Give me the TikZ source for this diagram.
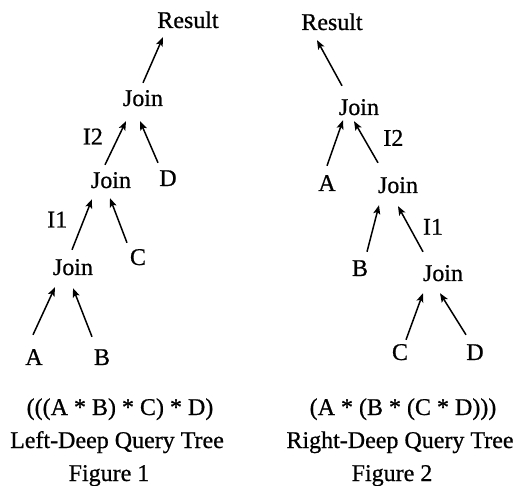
\documentclass[tikz,border=0pt]{standalone}
\usepackage{fontspec}
\setmainfont{Liberation Serif}
\newfontfamily\treefont[FakeBold=0.7]{Liberation Serif}
\usetikzlibrary{arrows.meta,positioning}

\tikzset{
  lbl/.style={inner sep=0pt, text height=16pt, text depth=0pt, font=\treefont\fontsize{24}{28}\selectfont},
  feed/.style={-{Stealth[length=9pt,width=7pt,inset=2pt]}, line width=1.5pt},
}

\begin{document}
\begin{tikzpicture}[x=1pt, y=1pt, node distance=33pt]
        \useasboundingbox (0,0) rectangle (517,485);

        % Left-deep tree
        \node[lbl] (res1) at (188,465) {Result};
        \node[lbl] (jt1) at (143,387) {Join};
        \node[lbl] (jm1) at (111,305) {Join};
        \node[lbl] (d1) at (168,307) {D};
        \node[lbl] (jb1) at (73,218) {Join};
        \node[lbl] (c1) at (138,228) {C};
        \node[lbl] (a1) at (34,128) {A};
        \node[lbl] (b1) at (102,128) {B};

        \node[lbl] (f1) at (120,78) {(((A * B) * C) * D)};
        \node[lbl, below of=f1, xshift=-3pt] (t1) {Left-Deep Query Tree};
        \node[lbl, below of=t1, xshift=-8pt] (g1) {Figure 1};

        \draw[feed] ([yshift=7pt]jt1.north) -- ([xshift=-25pt,yshift=-9pt]res1.south);
        \draw[feed] ([xshift=-6pt,yshift=7pt]jm1.north) -- node[lbl, pos=.65, left=15pt] (i2a) {I2} ([xshift=-17pt,yshift=-15pt]jt1.south);
        \draw[feed] ([xshift=-10pt,yshift=7pt]d1.north) -- ([xshift=-3pt,yshift=-15pt]jt1.south);
        \draw[feed] ([xshift=-1pt,yshift=9pt]jb1.north) -- node[lbl, pos=.6, left=16pt] (i1a) {I1} ([xshift=-19pt,yshift=-11pt]jm1.south);
        \draw[feed] ([xshift=-11pt,yshift=6pt]c1.north) -- ([xshift=-1pt,yshift=-10pt]jm1.south);
        \draw[feed] ([xshift=-1pt,yshift=14pt]a1.north) -- ([xshift=-18pt,yshift=-12pt]jb1.south);
        \draw[feed] ([xshift=-10pt,yshift=12pt]b1.north) -- ([yshift=-13pt]jb1.south);

        % Right-deep tree
        \node[lbl] (res2) at (332,463) {Result};
        \node[lbl] (jt2) at (359,378) {Join};
        \node[lbl] (a2) at (327,302) {A};
        \node[lbl] (jm2) at (398,300) {Join};
        \node[lbl] (b2) at (360,217) {B};
        \node[lbl] (jb2) at (443,212) {Join};
        \node[lbl] (c2) at (400,133) {C};
        \node[lbl] (d2) at (475,133) {D};

        \node[lbl] (f2) at (403,78) {(A * (B * (C * D)))};
        \node[lbl, below of=f2, xshift=-3pt] (t2) {Right-Deep Query Tree};
        \node[lbl, below of=t2, xshift=-8pt] (g2) {Figure 2};

        \draw[feed] ([xshift=-17pt,yshift=13pt]jt2.north) -- ([xshift=-15pt,yshift=-10pt]res2.south);
        \draw[feed] ([yshift=9pt]a2.north) -- ([xshift=-16pt,yshift=-5pt]jt2.south);
        \draw[feed] ([xshift=-20pt,yshift=14pt]jm2.north) -- node[lbl, pos=.6, right=19pt] (i2b) {I2} ([xshift=-5pt,yshift=-6pt]jt2.south);
        \draw[feed] ([xshift=7pt,yshift=8pt]b2.north) -- ([xshift=-19pt,yshift=-12pt]jm2.south);
        \draw[feed] ([xshift=-20pt,yshift=13pt]jb2.north) -- node[lbl, pos=.55, right=13pt] (i1b) {I1} ([yshift=-13pt]jm2.south);
        \draw[feed] ([xshift=6pt,yshift=4pt]c2.north) -- ([xshift=-20pt,yshift=-12pt]jb2.south);
        \draw[feed] ([xshift=-9pt,yshift=9pt]d2.north) -- ([xshift=-3pt,yshift=-12pt]jb2.south);
    \end{tikzpicture}
\end{document}
